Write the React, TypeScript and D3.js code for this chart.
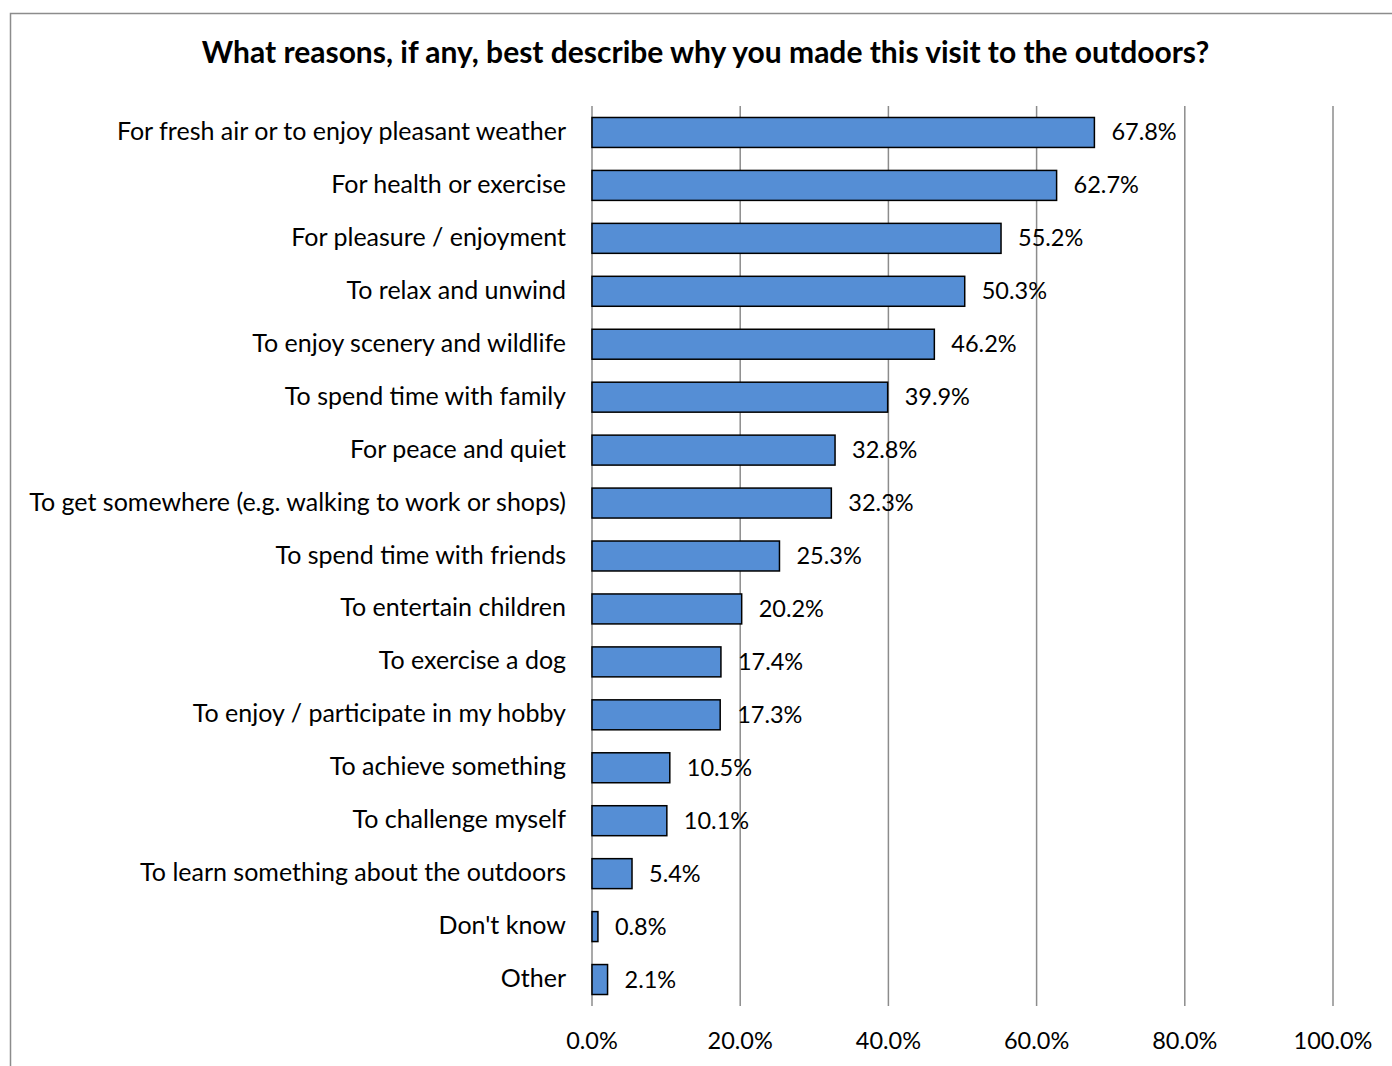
import React from "react";
import * as d3 from "d3";

const categories = [
  "For fresh air or to enjoy pleasant weather",
  "For health or exercise",
  "For pleasure / enjoyment",
  "To relax and unwind",
  "To enjoy scenery and wildlife",
  "To spend time with family",
  "For peace and quiet",
  "To get somewhere (e.g. walking to work or shops)",
  "To spend time with friends",
  "To entertain children",
  "To exercise a dog",
  "To enjoy / participate in my hobby",
  "To achieve something",
  "To challenge myself",
  "To learn something about the outdoors",
  "Don't know",
  "Other",
];
const values = [67.8, 62.7, 55.2, 50.3, 46.2, 39.9, 32.8, 32.3, 25.3, 20.2, 17.4, 17.3, 10.5, 10.1, 5.4, 0.8, 2.1];
const ticks = [0, 20, 40, 60, 80, 100];
const title = "What reasons, if any, best describe why you made this visit to the outdoors?";

const W = 1392;
const H = 1066;
const FONT = "Lato, 'Open Sans', sans-serif";

export default function App() {
  const x = d3.scaleLinear().domain([0, 100]).range([592, 1333]);
  const y = d3.scaleBand<string>().domain(categories).range([106, 1006]).paddingInner(0.434).paddingOuter(0.217);
  return (
    <svg width={W} height={H} style={{ position: "absolute", left: 0, top: 0 }}>
      <rect x={0} y={0} width={W} height={H} fill="#fff" />
      <path d={`M10.5,${H} V13.5 H${W}`} fill="none" stroke="#8c8c8c" strokeWidth={1.5} />
      <text x={705.5} y={63} textAnchor="middle" fontFamily={FONT} fontWeight="bold" fontSize={30} fill="#000">
        {title}
      </text>
      {ticks.map((t) => (
        <line key={t} x1={x(t)} x2={x(t)} y1={106} y2={1006} stroke="#8c8c8c" strokeWidth={1.5} />
      ))}
      {categories.map((c, i) => (
        <g key={c}>
          <rect
            x={x(0)}
            y={y(c)!}
            width={x(values[i]) - x(0)}
            height={y.bandwidth()}
            fill="#558ed5"
            stroke="#000"
            strokeWidth={1.5}
          />
          <text x={566} y={y(c)! + y.bandwidth() / 2 + 7.5} textAnchor="end" fontFamily={FONT} fontSize={25} fill="#000">
            {c}
          </text>
          <text x={x(values[i]) + 17} y={y(c)! + y.bandwidth() / 2 + 8} fontFamily={FONT} fontSize={23.5} fill="#000">
            {values[i].toFixed(1) + "%"}
          </text>
        </g>
      ))}
      {ticks.map((t) => (
        <text key={"l" + t} x={x(t)} y={1049} textAnchor="middle" fontFamily={FONT} fontSize={23.5} fill="#000">
          {t.toFixed(1) + "%"}
        </text>
      ))}
    </svg>
  );
}
